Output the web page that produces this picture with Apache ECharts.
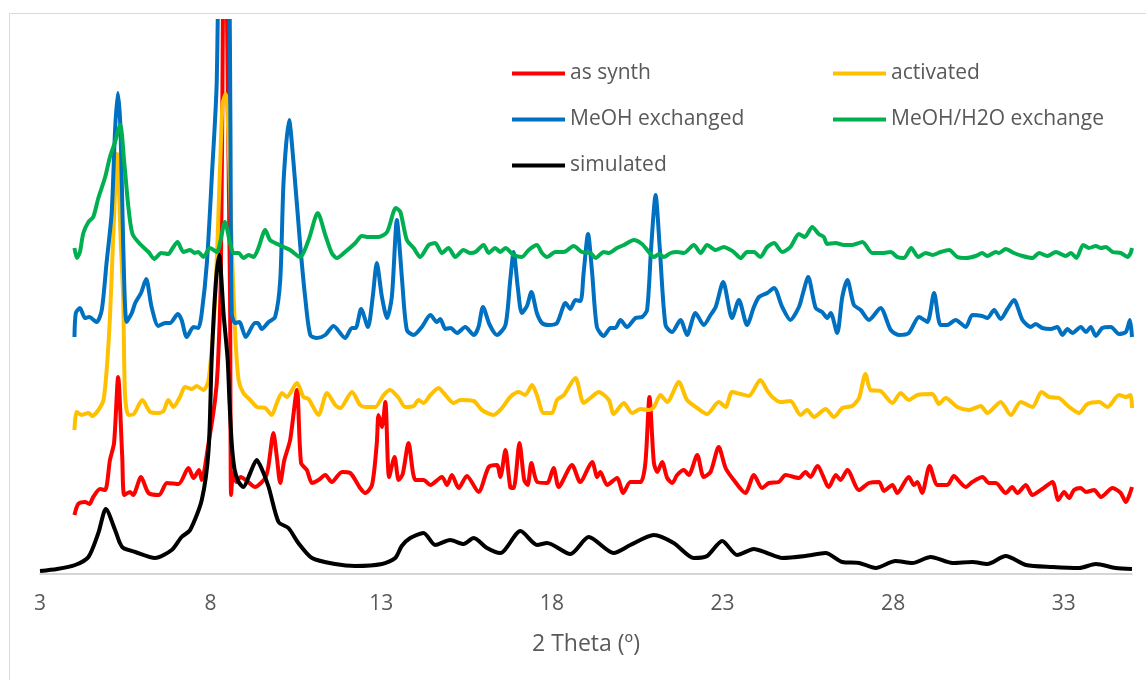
<!DOCTYPE html>
<html>
<head>
<meta charset="utf-8">
<title>PXRD</title>
<script src="https://cdn.jsdelivr.net/npm/echarts@6/dist/echarts.min.js"></script>
<style>
  html, body { margin: 0; padding: 0; background: #fff; }
  #chart { width: 1146px; height: 680px; }
</style>
</head>
<body>
<div id="chart"></div>
<script>
// series names, in drawing order (later ones on top)
var seriesNames = ["as synth", "activated", "MeOH exchanged", "MeOH/H2O exchange", "simulated"];
var seriesColors = ["#ff0000", "#ffc000", "#0070c0", "#00b050", "#000000"];

// [2 theta, intensity] (intensity in arbitrary, offset units)
var asSynth = [[4.01,59],[4.12,70],[4.32,72],[4.45,70],[4.56,77],[4.76,85],[4.91,84],[5.05,114],[5.17,131],[5.29,197],[5.41,117],[5.47,79],[5.64,82],[5.73,79],[5.96,97],[6.18,81],[6.49,79],[6.72,91],[7.06,90],[7.35,106],[7.50,96],[7.66,104],[7.74,94],[7.94,131],[8.13,174],[8.21,207],[8.30,300],[8.36,560],[8.42,950],[8.48,560],[8.57,274],[8.60,79],[8.66,101],[8.75,92],[8.88,97],[9.10,92],[9.30,87],[9.60,96],[9.69,107],[9.84,141],[9.94,117],[10.04,91],[10.16,114],[10.33,134],[10.53,184],[10.65,111],[10.82,104],[10.97,91],[11.16,94],[11.36,99],[11.55,92],[11.85,102],[12.09,101],[12.38,86],[12.53,81],[12.73,89],[12.87,131],[12.92,159],[13.02,147],[13.12,172],[13.23,97],[13.39,117],[13.51,94],[13.63,100],[13.80,131],[14.00,94],[14.24,94],[14.44,89],[14.78,97],[14.93,89],[15.07,99],[15.27,86],[15.51,98],[15.85,82],[16.15,107],[16.39,109],[16.49,97],[16.64,124],[16.78,87],[16.88,86],[17.05,131],[17.19,94],[17.29,89],[17.40,111],[17.57,92],[17.86,91],[18.05,106],[18.20,87],[18.59,109],[18.83,92],[19.18,112],[19.33,97],[19.42,102],[19.62,89],[19.91,96],[20.09,81],[20.30,92],[20.60,92],[20.74,111],[20.86,177],[20.99,111],[21.09,102],[21.23,112],[21.38,96],[21.53,91],[21.67,99],[21.87,104],[22.01,99],[22.26,119],[22.45,97],[22.65,102],[22.89,127],[23.09,106],[23.33,94],[23.67,81],[23.92,99],[24.16,86],[24.36,91],[24.65,92],[24.85,99],[25.24,96],[25.43,102],[25.58,97],[25.78,108],[26.12,87],[26.32,99],[26.46,94],[26.66,104],[27.00,84],[27.29,91],[27.59,92],[27.73,83],[27.98,89],[28.12,81],[28.46,97],[28.61,89],[28.71,92],[28.85,81],[29.07,108],[29.30,89],[29.59,89],[29.78,98],[29.98,91],[30.13,87],[30.32,92],[30.62,97],[30.81,91],[31.01,91],[31.30,81],[31.49,87],[31.64,81],[31.89,89],[32.08,79],[32.37,85],[32.67,92],[32.84,74],[33.01,82],[33.16,76],[33.30,84],[33.50,86],[33.65,82],[33.89,84],[34.09,77],[34.43,86],[34.67,81],[34.82,72],[35.00,87]];

var activated = [[4.01,144],[4.07,162],[4.22,159],[4.42,161],[4.53,158],[4.71,164],[4.86,174],[4.96,207],[5.05,257],[5.15,340],[5.26,420],[5.37,330],[5.44,274],[5.49,180],[5.59,159],[5.75,160],[6.00,174],[6.23,162],[6.47,161],[6.62,163],[6.76,174],[6.91,167],[7.10,177],[7.25,187],[7.45,185],[7.59,188],[7.79,184],[7.94,194],[8.13,274],[8.27,400],[8.35,470],[8.44,480],[8.52,440],[8.62,327],[8.72,240],[8.82,194],[8.96,181],[9.16,174],[9.36,167],[9.60,166],[9.79,159],[9.94,171],[10.09,181],[10.23,177],[10.53,191],[10.72,177],[10.87,175],[11.16,159],[11.41,181],[11.65,169],[11.80,166],[12.14,182],[12.38,169],[12.53,167],[12.82,167],[13.07,179],[13.26,184],[13.51,176],[13.70,167],[13.95,168],[14.09,174],[14.24,171],[14.44,179],[14.68,186],[14.83,181],[15.12,171],[15.32,174],[15.71,173],[15.95,164],[16.29,159],[16.54,166],[16.78,177],[17.03,182],[17.22,179],[17.42,189],[17.56,179],[17.76,161],[18.00,161],[18.15,174],[18.35,179],[18.69,196],[18.93,171],[19.13,176],[19.37,182],[19.67,174],[19.81,160],[20.11,171],[20.35,161],[20.60,165],[20.84,164],[20.99,167],[21.18,179],[21.38,172],[21.72,192],[21.96,174],[22.26,166],[22.55,160],[22.89,172],[23.09,167],[23.28,182],[23.53,180],[23.77,178],[24.11,194],[24.30,184],[24.46,177],[24.70,172],[24.99,173],[25.29,159],[25.48,164],[25.68,157],[26.02,165],[26.27,157],[26.51,166],[26.80,168],[27.00,176],[27.19,200],[27.34,184],[27.63,183],[27.98,171],[28.22,181],[28.46,174],[28.71,179],[29.15,180],[29.34,170],[29.54,176],[29.88,167],[30.22,164],[30.57,168],[30.76,161],[31.15,172],[31.45,159],[31.74,172],[32.08,167],[32.35,182],[32.57,177],[32.86,176],[33.16,167],[33.45,161],[33.69,170],[34.04,172],[34.28,167],[34.62,179],[34.82,177],[34.96,179],[35.00,166]];

var meohExchanged = [[4.01,237],[4.05,261],[4.17,266],[4.32,256],[4.44,257],[4.66,252],[4.81,264],[4.95,311],[5.10,361],[5.20,444],[5.28,481],[5.36,444],[5.44,327],[5.54,252],[5.69,261],[5.79,271],[5.96,281],[6.11,295],[6.27,267],[6.47,248],[6.67,251],[6.81,251],[7.04,260],[7.15,254],[7.30,237],[7.50,247],[7.64,246],[7.74,261],[7.89,311],[8.03,394],[8.18,494],[8.39,1000],[8.55,600],[8.58,450],[8.62,260],[8.72,251],[8.84,252],[9.03,237],[9.30,251],[9.38,251],[9.50,245],[9.70,252],[9.89,257],[10.04,294],[10.14,394],[10.30,454],[10.43,411],[10.62,331],[10.77,277],[10.92,239],[11.11,236],[11.36,239],[11.60,248],[11.94,236],[12.14,246],[12.25,246],[12.41,265],[12.61,247],[12.75,277],[12.87,311],[13.02,277],[13.17,256],[13.31,277],[13.46,354],[13.53,330],[13.61,294],[13.75,244],[13.95,239],[14.19,247],[14.44,259],[14.63,252],[14.73,255],[14.88,245],[15.03,246],[15.22,241],[15.46,247],[15.71,239],[15.85,247],[15.98,267],[16.18,249],[16.39,239],[16.64,249],[16.78,294],[16.88,322],[17.00,287],[17.12,261],[17.27,268],[17.40,282],[17.56,261],[17.71,251],[17.91,249],[18.15,251],[18.40,271],[18.54,265],[18.69,274],[18.84,273],[18.93,301],[19.06,340],[19.18,301],[19.32,247],[19.52,238],[19.72,246],[19.86,246],[20.01,254],[20.20,247],[20.45,256],[20.64,257],[20.79,264],[20.91,327],[21.04,379],[21.16,327],[21.33,249],[21.52,242],[21.77,254],[21.96,239],[22.21,261],[22.45,249],[22.65,259],[22.80,267],[23.02,292],[23.28,256],[23.48,274],[23.72,249],[23.92,267],[24.07,277],[24.31,281],[24.51,286],[24.75,267],[24.99,254],[25.24,267],[25.36,281],[25.51,297],[25.73,266],[25.92,262],[26.07,256],[26.17,261],[26.36,241],[26.51,277],[26.66,294],[26.85,269],[27.05,264],[27.29,254],[27.63,266],[27.93,244],[28.17,239],[28.46,241],[28.76,257],[29.00,252],[29.20,281],[29.39,249],[29.59,249],[29.83,254],[30.13,247],[30.32,259],[30.61,258],[30.76,256],[30.96,264],[31.15,255],[31.35,265],[31.54,274],[31.79,254],[32.03,247],[32.18,250],[32.37,246],[32.62,245],[32.81,247],[32.96,239],[33.11,245],[33.25,241],[33.50,247],[33.65,242],[33.79,247],[33.94,238],[34.13,246],[34.38,247],[34.62,240],[34.82,242],[34.94,254],[35.00,237]];

var meohH2o = [[4.01,326],[4.08,316],[4.17,322],[4.27,341],[4.42,352],[4.56,357],[4.71,376],[4.91,397],[5.05,417],[5.20,432],[5.35,449],[5.47,411],[5.59,367],[5.71,340],[5.93,330],[6.18,322],[6.35,315],[6.55,321],[6.76,320],[6.89,326],[7.03,332],[7.20,322],[7.40,324],[7.53,321],[7.64,322],[7.79,317],[7.98,326],[8.18,322],[8.42,352],[8.57,331],[8.67,321],[8.82,321],[8.96,316],[9.11,319],[9.26,317],[9.40,326],[9.60,344],[9.74,334],[9.89,331],[10.14,327],[10.33,324],[10.62,317],[10.87,334],[11.14,361],[11.36,339],[11.55,321],[11.70,316],[11.94,322],[12.24,331],[12.43,338],[12.63,337],[12.92,337],[13.17,342],[13.43,366],[13.56,362],[13.75,334],[13.95,326],[14.14,317],[14.39,329],[14.58,331],[14.78,321],[14.97,326],[15.17,317],[15.41,324],[15.61,321],[15.76,322],[16.00,329],[16.15,321],[16.34,326],[16.49,322],[16.64,326],[16.88,319],[17.12,317],[17.32,324],[17.56,329],[17.71,321],[17.86,317],[18.10,322],[18.35,322],[18.64,328],[18.88,322],[19.13,321],[19.28,316],[19.52,322],[19.67,321],[19.91,326],[20.11,329],[20.40,334],[20.64,330],[20.84,322],[20.99,317],[21.14,320],[21.28,317],[21.48,321],[21.67,322],[21.87,321],[22.16,329],[22.36,321],[22.55,329],[22.80,324],[23.04,327],[23.24,324],[23.33,322],[23.53,316],[23.72,322],[23.92,322],[24.11,317],[24.31,327],[24.51,331],[24.75,322],[24.99,327],[25.24,340],[25.41,337],[25.63,347],[25.82,340],[25.97,337],[26.07,330],[26.31,331],[26.56,329],[26.80,329],[27.10,332],[27.39,321],[27.68,321],[27.93,322],[28.12,317],[28.32,316],[28.53,326],[28.74,317],[28.95,321],[29.15,319],[29.39,322],[29.64,324],[29.88,317],[30.13,316],[30.42,318],[30.61,321],[30.76,318],[31.01,322],[31.10,321],[31.30,325],[31.54,321],[31.79,318],[32.08,316],[32.28,321],[32.52,318],[32.77,322],[33.06,318],[33.21,321],[33.37,316],[33.57,329],[33.74,326],[33.94,328],[34.09,326],[34.23,327],[34.43,322],[34.67,321],[34.87,317],[34.96,321],[35.00,326]];

var simulated = [[3.00,3],[3.50,5],[4.03,9],[4.42,17],[4.71,41],[4.93,65],[5.20,44],[5.34,31],[5.44,26],[5.79,22],[6.37,16],[6.86,24],[7.15,37],[7.40,44],[7.74,74],[7.94,124],[8.03,214],[8.15,290],[8.25,319],[8.38,260],[8.50,214],[8.55,174],[8.62,130],[8.70,105],[8.82,92],[8.96,87],[9.16,101],[9.35,114],[9.50,105],[9.70,87],[9.99,52],[10.28,46],[10.57,31],[10.97,16],[11.65,10],[12.24,8],[13.02,10],[13.41,16],[13.60,28],[13.85,36],[14.24,41],[14.58,29],[15.02,34],[15.41,30],[15.71,36],[16.10,26],[16.49,21],[17.08,43],[17.57,29],[17.86,31],[18.54,20],[19.08,37],[19.81,21],[20.30,29],[20.99,39],[21.57,31],[22.16,16],[22.55,18],[22.99,33],[23.43,19],[23.92,25],[24.30,21],[24.75,16],[25.43,18],[26.02,21],[26.51,12],[27.00,11],[27.49,6],[28.07,13],[28.56,11],[29.10,17],[29.74,11],[30.32,12],[30.76,10],[31.30,18],[31.89,9],[32.67,7],[33.45,6],[33.94,10],[34.52,6],[35.00,5]];

var seriesData = [asSynth, activated, meohExchanged, meohH2o, simulated];

var textColor = "#595959";
var fontFamily = "'Open Sans', sans-serif";

var chart = echarts.init(document.getElementById("chart"));

function legendBlock(left, names) {
  return {
    left: left,
    top: 61,
    orient: "vertical",
    padding: 0,
    itemGap: 21,
    itemWidth: 53,
    itemHeight: 4,
    icon: "rect",
    selectedMode: false,
    data: names,
    textStyle: { color: textColor, fontSize: 21, lineHeight: 25, fontFamily: fontFamily }
  };
}

chart.setOption({
  backgroundColor: "#ffffff",
  animation: false,
  graphic: [
    {
      type: "rect",
      left: 7,
      top: 11,
      shape: { width: 1200, height: 700 },
      style: { fill: "none", stroke: "#d9d9d9", lineWidth: 1 },
      silent: true
    }
  ],
  legend: [
    legendBlock(512, [seriesNames[0], seriesNames[2], seriesNames[4]]),
    legendBlock(833, [seriesNames[1], seriesNames[3]])
  ],
  grid: {
    left: 40,
    right: 14,
    top: 21,
    bottom: 106
  },
  xAxis: {
    type: "value",
    min: 3,
    max: 35,
    interval: 5,
    name: "2 Theta (º)",
    nameLocation: "middle",
    nameGap: 59,
    nameTextStyle: { color: textColor, fontSize: 23, fontFamily: fontFamily },
    axisLine: { lineStyle: { color: "#c8c8c8", width: 1.5 } },
    axisTick: { show: false },
    splitLine: { show: false },
    axisLabel: {
      color: textColor,
      fontSize: 21,
      fontFamily: fontFamily,
      margin: 20,
      showMaxLabel: false
    }
  },
  yAxis: {
    type: "value",
    min: 0,
    max: 553,
    show: false
  },
  series: seriesNames.map(function (name, i) {
    return {
      name: name,
      type: "line",
      data: seriesData[i],
      showSymbol: false,
      smooth: 0.25,
      clip: true,
      color: seriesColors[i],
      lineStyle: { color: seriesColors[i], width: 4 },
      emphasis: { disabled: true }
    };
  })
});
</script>
</body>
</html>
